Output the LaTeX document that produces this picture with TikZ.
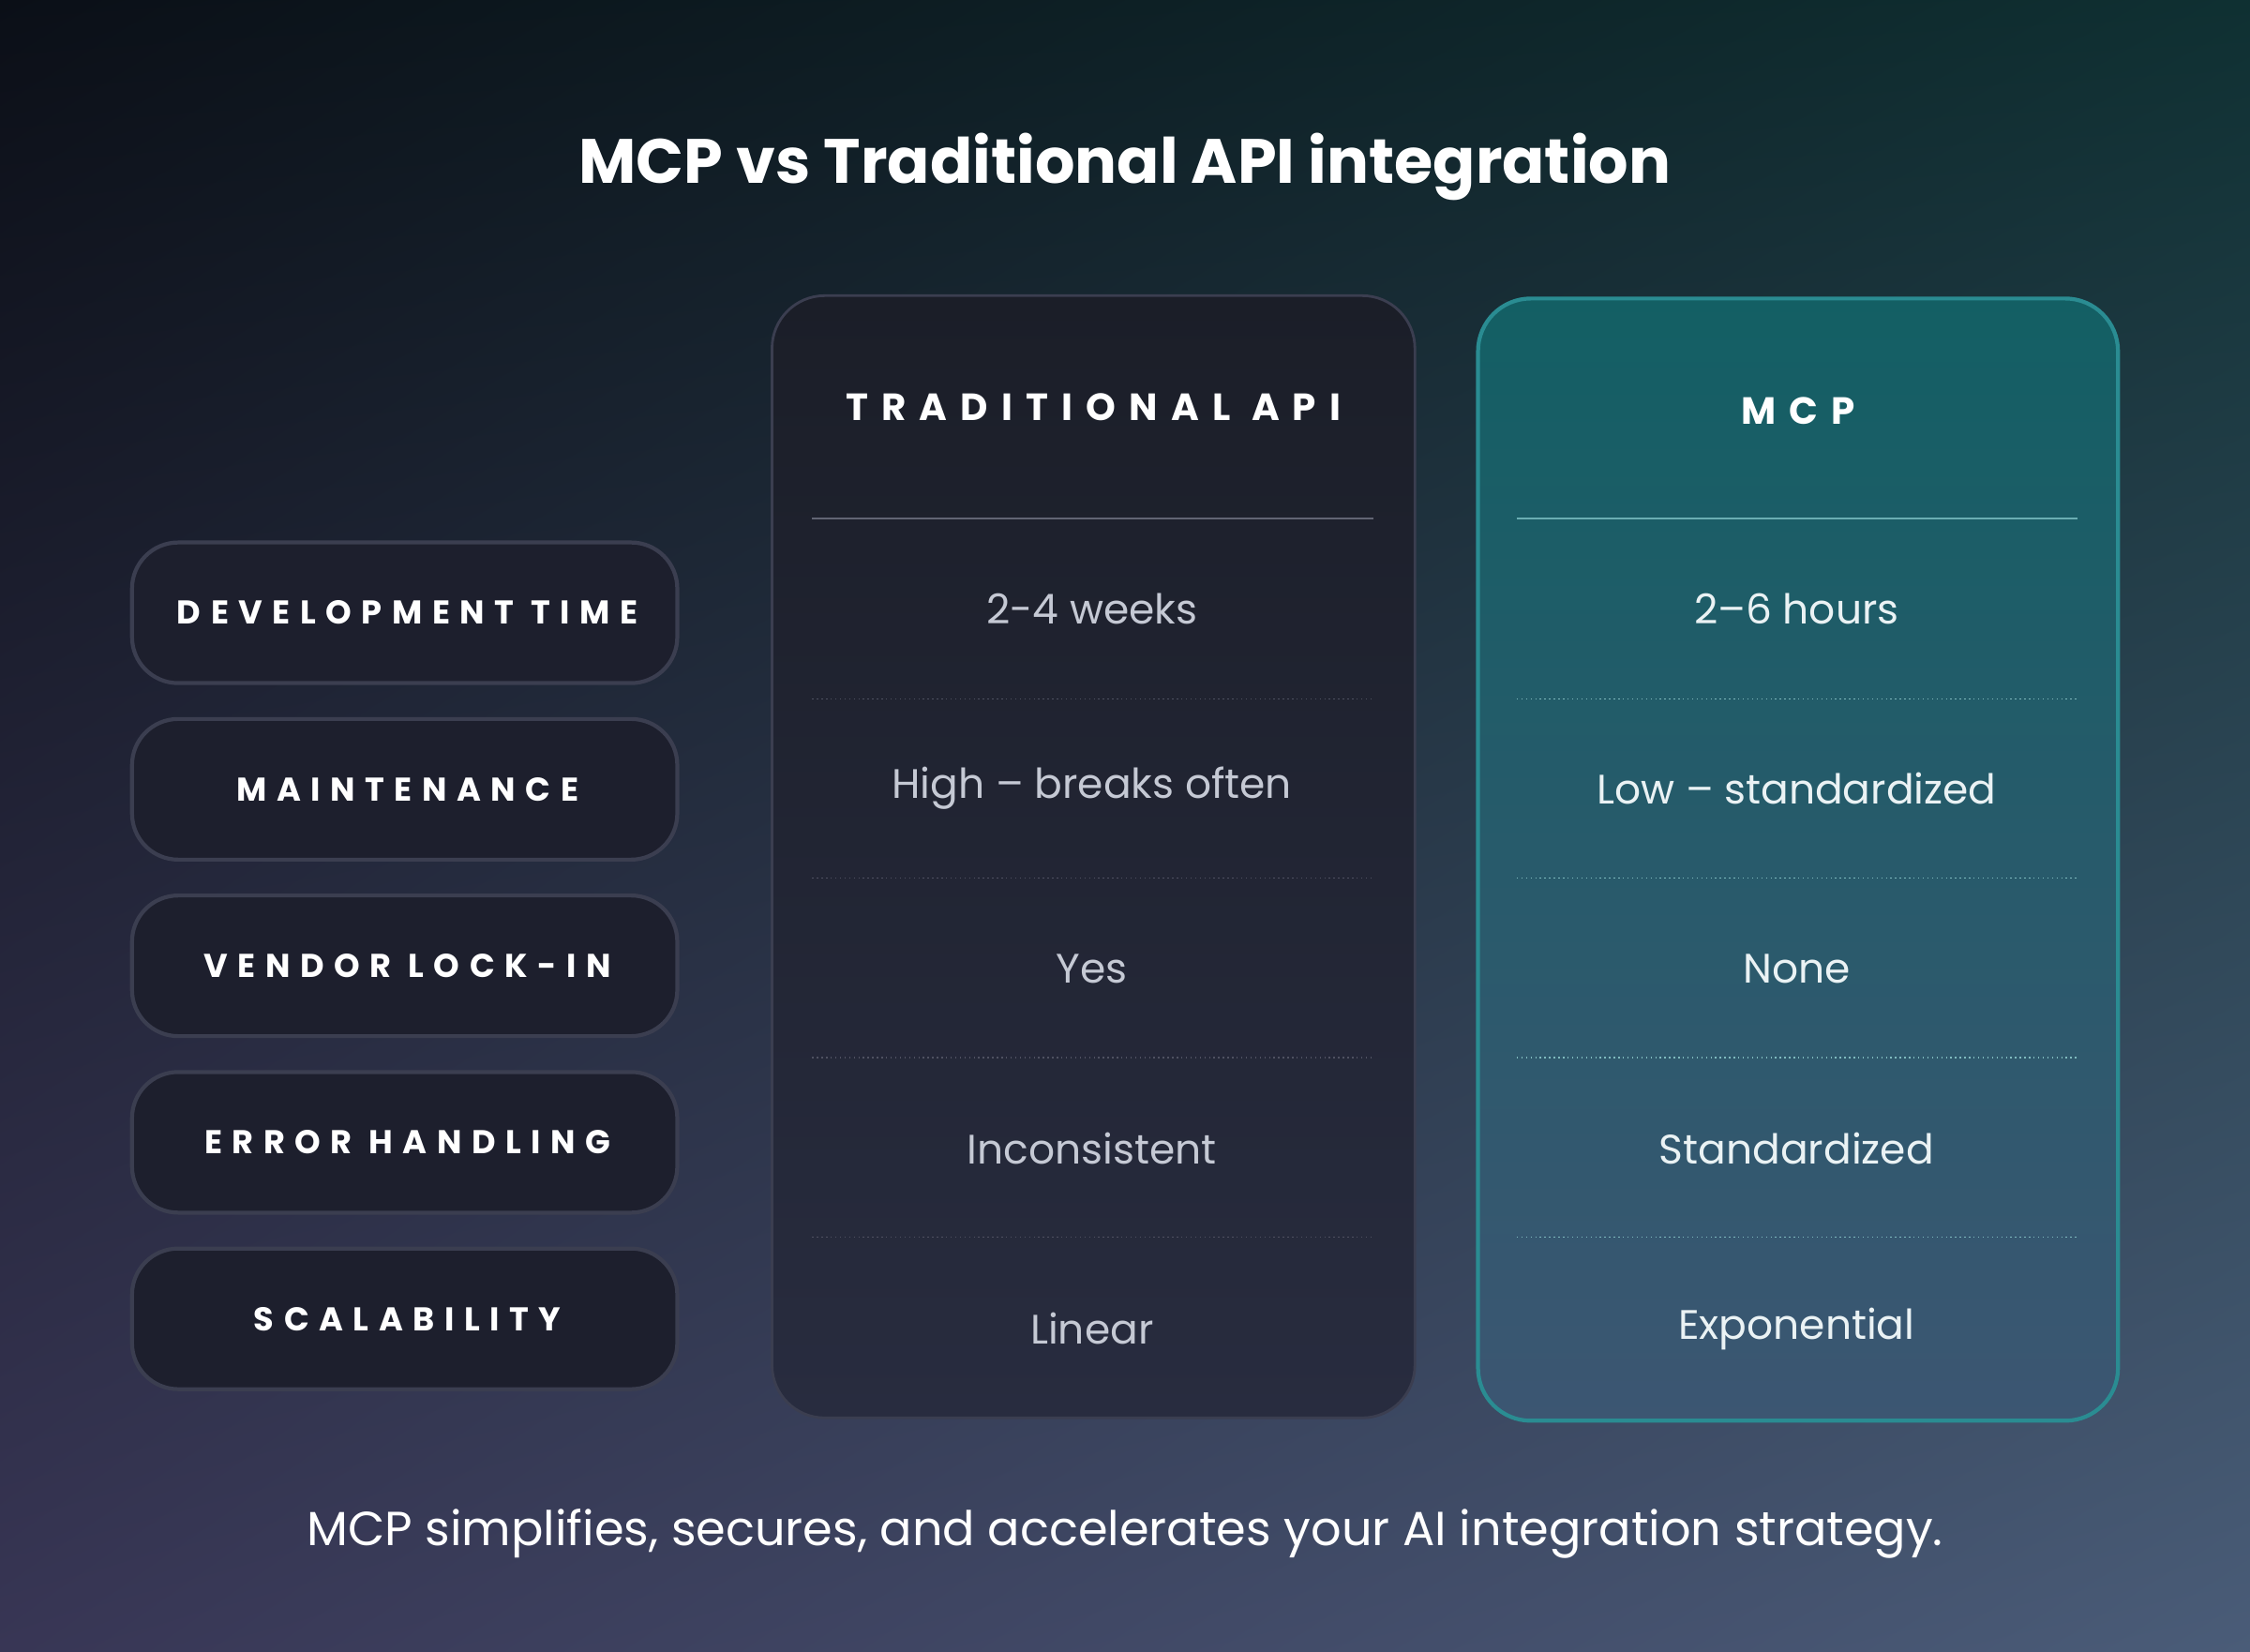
\documentclass[tikz,border=0pt]{standalone}
\usepackage{fontspec}
\setmainfont{Poppins}
\usetikzlibrary{calc,shadings}
\definecolor{bgtl}{HTML}{0B0F17}
\definecolor{bgtr}{HTML}{0F3032}
\definecolor{bgbl}{HTML}{383655}
\definecolor{bgbr}{HTML}{4A5C78}
\definecolor{lblfill}{HTML}{1D1F2D}
\definecolor{lbldraw}{HTML}{3B3E50}
\definecolor{tradtop}{HTML}{1B1E28}
\definecolor{tradbot}{HTML}{282C3F}
\definecolor{mcptop}{HTML}{135F64}
\definecolor{mcpbot}{HTML}{3C5672}
\definecolor{mcpdraw}{HTML}{2A8C92}
\definecolor{tradtext}{HTML}{C5C9D4}
\definecolor{mcptext}{HTML}{EAF2F4}
\tikzset{
  lblbox/.style={draw=lbldraw,line width=1.2pt,fill=lblfill,rounded corners=14pt},
  lbltext/.style={text=white,font=\fontsize{10}{12}\selectfont\bfseries\addfontfeatures{LetterSpace=30}},
  headtext/.style={text=white,font=\fontsize{11.5}{13}\selectfont\bfseries\addfontfeatures{LetterSpace=35}},
  valtext/.style={font=\fontsize{12.5}{15}\selectfont},
  sepline/.style={line width=0.4pt,densely dotted}
}
\begin{document}
\begin{tikzpicture}[x=0.015306cm,y=-0.015306cm]
\useasboundingbox (0,0) rectangle (1568,1151);
\shade[upper left=bgtl,upper right=bgtr,lower left=bgbl,lower right=bgbr] (0,0) rectangle (1568,1151);
% title
\node[text=white,font=\fontsize{19}{22}\selectfont\bfseries] (title) at (784,116) {MCP vs Traditional API integration};
% columns
\shade[top color=tradtop,bottom color=tradbot,rounded corners=16pt] (538,206) rectangle (986,988);
\draw[draw=lbldraw,line width=0.8pt,rounded corners=16pt] (538,206) rectangle (986,988);
\shade[top color=mcptop,bottom color=mcpbot,rounded corners=16pt] (1030,208) rectangle (1476,990);
\draw[draw=mcpdraw,line width=1.2pt,rounded corners=16pt] (1030,208) rectangle (1476,990);
\node[headtext] (trad) at (762,284) {TRADITIONAL API};
\node[headtext] (mcp) at (1253,286) {MCP};
\draw[lbldraw!80!white,line width=0.6pt] (566,361) -- (957,361);
\draw[mcpdraw!70!white,line width=0.6pt] (1057,361) -- (1448,361);
\foreach \y in {487,612,737,862} {
  \draw[sepline,draw=lbldraw!90!white] (566,\y) -- (957,\y);
  \draw[sepline,draw=mcpdraw!60!white] (1057,\y) -- (1448,\y);
}
% rows
\foreach \i/\lbl/\tv/\mv in {0/DEVELOPMENT TIME/2-4 weeks/2–6 hours,
    1/MAINTENANCE/High – breaks often/Low – standardized,
    2/VENDOR LOCK-IN/Yes/None,
    3/ERROR HANDLING/Inconsistent/Standardized,
    4/SCALABILITY/Linear/Exponential} {
  \pgfmathsetmacro{\ytop}{378+123*\i}
  \draw[lblbox] (92,\ytop) rectangle (472,\ytop+98);
  \node[lbltext] (lbl\i) at (284,\ytop+49) {\lbl};
  \pgfmathsetmacro{\yv}{424+125.5*\i}
  \node[valtext,text=tradtext] (tv\i) at (761,\yv) {\tv};
  \node[valtext,text=mcptext] (mv\i) at (1252,\yv) {\mv};
}
% footer
\node[text=white,font=\fontsize{14.5}{17}\selectfont] (foot) at (784,1069) {MCP simplifies, secures, and accelerates your AI integration strategy.};
\end{tikzpicture}
\end{document}
